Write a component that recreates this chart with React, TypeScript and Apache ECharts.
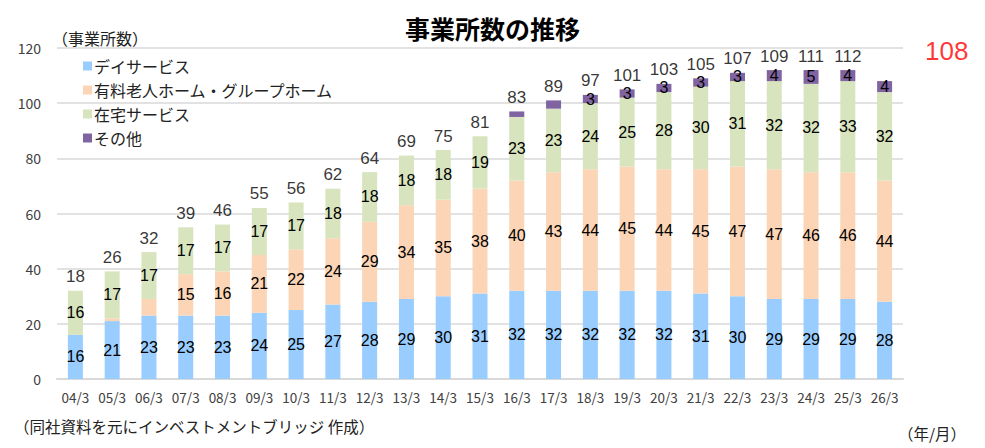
import React, { useEffect, useRef } from 'react'
import * as echarts from 'echarts'

const categories = [
  '04/3', '05/3', '06/3', '07/3', '08/3', '09/3', '10/3', '11/3', '12/3', '13/3', '14/3', '15/3',
  '16/3', '17/3', '18/3', '19/3', '20/3', '21/3', '22/3', '23/3', '24/3', '25/3', '26/3',
]
const dayService = [16, 21, 23, 23, 23, 24, 25, 27, 28, 29, 30, 31, 32, 32, 32, 32, 32, 31, 30, 29, 29, 29, 28]
const nursingHome = [0, 1, 6, 15, 16, 21, 22, 24, 29, 34, 35, 38, 40, 43, 44, 45, 44, 45, 47, 47, 46, 46, 44]
const homeService = [16, 17, 17, 17, 17, 17, 17, 18, 18, 18, 18, 19, 23, 23, 24, 25, 28, 30, 31, 32, 32, 33, 32]
const others = [0, 0, 0, 0, 0, 0, 0, 0, 0, 0, 0, 0, 2, 3, 3, 3, 3, 3, 3, 4, 5, 4, 4]
// the figures printed above each bar, as in the source
const totalLabels = [18, 26, 32, 39, 46, 55, 56, 62, 64, 69, 75, 81, 83, 89, 97, 101, 103, 105, 107, 109, 111, 112, 108]
const yTicks = { min: 0, max: 120, interval: 20 }

const FONT = '"Noto Sans CJK JP", "Noto Sans", sans-serif'
const NUM_FONT = '"Liberation Sans Narrow", "Liberation Sans", sans-serif'

function App() {
  const chartRef = useRef<HTMLDivElement>(null)

  useEffect(() => {
    const chart = echarts.init(chartRef.current, null, { renderer: 'svg' })

    const totals = categories.map((_, i) => dayService[i] + nursingHome[i] + homeService[i] + others[i])
    const last = categories.length - 1
    const otherLabelFrom = categories.indexOf('18/3')

    const segLabel = (show: (v: number, i: number) => boolean) => ({
      show: true,
      position: 'inside',
      fontFamily: NUM_FONT,
      fontSize: 16,
      color: '#000',
      formatter: (p: any) => (show(p.value, p.dataIndex) ? String(p.value) : ''),
    })

    const bar = (name: string, data: number[], color: string, show: (v: number, i: number) => boolean) => ({
      name,
      type: 'bar',
      stack: 'total',
      barWidth: 15,
      data,
      itemStyle: { color },
      label: segLabel(show),
    })

    const options = {
      animation: false,
      title: {
        text: '事業所数の推移',
        left: 'center',
        top: 10,
        textStyle: { fontFamily: FONT, fontSize: 25, fontWeight: 'bold', color: '#000' },
      },
      legend: {
        data: ['デイサービス', '有料老人ホーム・グループホーム', '在宅サービス', 'その他'],
        orient: 'vertical',
        left: 78,
        top: 53,
        itemWidth: 9,
        itemHeight: 9,
        itemGap: 8,
        icon: 'rect',
        textStyle: { fontFamily: FONT, fontSize: 16, color: '#222', padding: [0, 0, 0, -3] },
      },
      grid: { left: 57, right: 82, top: 48, bottom: 69 },
      xAxis: {
        type: 'category',
        data: categories,
        axisTick: { show: false },
        axisLine: { lineStyle: { color: '#d9d9d9', width: 2 } },
        axisLabel: { fontFamily: FONT, fontSize: 13.5, color: '#404040', margin: 11 },
      },
      yAxis: {
        type: 'value',
        ...yTicks,
        axisLine: { show: false },
        axisTick: { show: false },
        splitLine: { lineStyle: { color: '#d9d9d9', width: 1.5 } },
        axisLabel: { fontFamily: FONT, fontSize: 14, color: '#404040', margin: 16 },
      },
      graphic: [
        {
          type: 'text',
          left: 52,
          top: 30,
          style: { text: '（事業所数）', fontFamily: FONT, fontSize: 16, fill: '#222' },
        },
        {
          type: 'text',
          left: 14,
          top: 418,
          style: { text: '（同社資料を元にインベストメントブリッジ 作成）', fontFamily: FONT, fontSize: 15.5, fill: '#222' },
        },
        {
          type: 'text',
          left: 898,
          top: 425,
          style: { text: '（年/月）', fontFamily: FONT, fontSize: 15.5, fill: '#222' },
        },
      ],
      series: [
        bar('デイサービス', dayService, '#99ccff', () => true),
        bar('有料老人ホーム・グループホーム', nursingHome, '#fbd5b5', (v) => v >= 10),
        bar('在宅サービス', homeService, '#d7e4bd', () => true),
        bar('その他', others, '#8064a2', (v, i) => v > 0 && i >= otherLabelFrom),
        {
          name: '合計',
          type: 'scatter',
          data: totals.map((v, i) =>
            i === last
              ? { value: v, label: { fontSize: 26, color: '#ff0000', position: [41, -43] } }
              : v,
          ),
          symbolSize: 1,
          itemStyle: { color: 'rgba(0,0,0,0)' },
          z: 5,
          labelLayout: { hideOverlap: false },
          label: {
            show: true,
            position: 'top',
            distance: 5,
            fontFamily: NUM_FONT,
            fontSize: 17,
            color: '#000',
            formatter: (p: any) => String(totalLabels[p.dataIndex]),
          },
        },
      ],
    }

    chart.setOption(options)
    return () => {
      chart.dispose()
    }
  }, [])

  return (
    <div
      ref={chartRef}
      style={{ position: 'fixed', left: 0, top: 0, width: 985, height: 448, background: '#fff' }}
    ></div>
  )
}

export default App
